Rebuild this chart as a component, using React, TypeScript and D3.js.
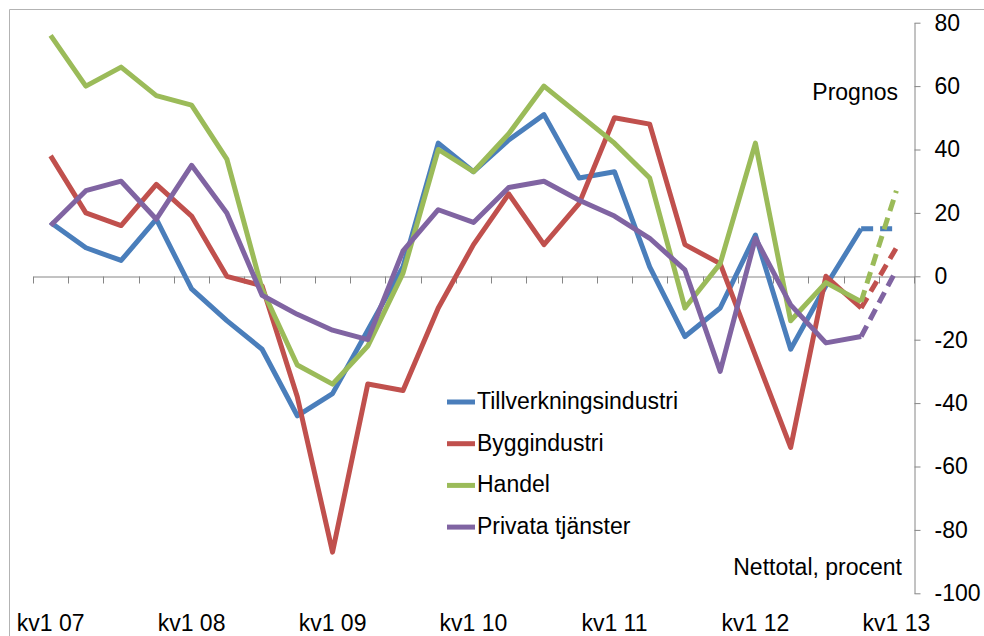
import * as d3 from 'd3';
import { useRef, useEffect } from 'react';

const quarters = [
  'kv1 07', 'kv2 07', 'kv3 07', 'kv4 07',
  'kv1 08', 'kv2 08', 'kv3 08', 'kv4 08',
  'kv1 09', 'kv2 09', 'kv3 09', 'kv4 09',
  'kv1 10', 'kv2 10', 'kv3 10', 'kv4 10',
  'kv1 11', 'kv2 11', 'kv3 11', 'kv4 11',
  'kv1 12', 'kv2 12', 'kv3 12', 'kv4 12',
  'kv1 13',
];

const tillverkning = [17, 9, 5, 18, -4, -14, -23, -44, -37, -17, 3, 42, 33, 43, 51, 31, 33, 3, -19, -10, 13, -23, -3, 15, 15];
const bygg = [38, 20, 16, 29, 19, 0, -3, -38, -87, -34, -36, -10, 10, 26, 10, 23, 50, 48, 10, 4, -25, -54, 0, -10, 9];
const handel = [76, 60, 66, 57, 54, 37, -4, -28, -34, -22, 1, 40, 33, 45, 60, 51, 42, 31, -10, 4, 42, -14, -2, -8, 27];
const privata = [16, 27, 30, 18, 35, 20, -6, -12, -17, -20, 8, 21, 17, 28, 30, 24, 19, 12, 2, -30, 12, -9, -21, -19, 2];

const seriesNames = ['Tillverkningsindustri', 'Byggindustri', 'Handel', 'Privata tjänster'];
const seriesColors = ['#4a7ebb', '#c0504d', '#9bbb59', '#8064a2'];
const yTicks = [80, 60, 40, 20, 0, -20, -40, -60, -80, -100];
const forecastFrom = 23; // index of kv4 12, dashed after this

const LineChart = () => {
  const svgRef = useRef<SVGSVGElement>(null);

  useEffect(() => {
    const svg = d3.select(svgRef.current);
    const width = 984;
    const height = 636;
    const plot = { left: 33, right: 914, top: 22.7, bottom: 593.3 };
    const font = '"Liberation Sans", Arial, sans-serif';
    const fs = '23px';

    svg.attr('width', width).attr('height', height);
    svg.selectAll('*').remove();

    // outer frame
    svg.append('path')
      .attr('d', `M9.5,${height}V9.5H${width}`)
      .attr('fill', 'none')
      .attr('stroke', '#b3b3b3')
      .attr('stroke-width', 1);

    const x = d3.scaleBand()
      .domain(quarters)
      .range([plot.left, plot.right]);

    const y = d3.scaleLinear()
      .domain([-100, 80])
      .range([plot.bottom, plot.top]);

    const cx = (i: number) => x(quarters[i])! + x.bandwidth() / 2;

    // x axis (zero line with boundary ticks)
    const xAxisG = svg.append('g')
      .attr('transform', `translate(0,${Math.round(y(0)) + 0.5})`)
      .call(d3.axisBottom(x).tickSize(0).tickFormat(() => ''));
    xAxisG.select('.domain').attr('stroke', '#868686');
    xAxisG.selectAll('.tick').remove();
    xAxisG.selectAll('line.bnd')
      .data(d3.range(quarters.length + 1))
      .enter().append('line')
      .attr('x1', i => Math.round(plot.left + i * x.step()) + 0.5)
      .attr('x2', i => Math.round(plot.left + i * x.step()) + 0.5)
      .attr('y1', 0)
      .attr('y2', 7)
      .attr('stroke', '#868686');

    // x labels every fourth quarter
    svg.append('g')
      .selectAll('text')
      .data(quarters.map((q, i) => ({ q, i })).filter(d => d.i % 4 === 0))
      .enter().append('text')
      .attr('x', d => cx(d.i))
      .attr('y', 631)
      .attr('text-anchor', 'middle')
      .style('font-family', font)
      .style('font-size', fs)
      .attr('fill', '#000')
      .text(d => d.q);

    // right y axis
    const yAxisG = svg.append('g')
      .attr('transform', `translate(${plot.right + 0.5},0)`)
      .call(d3.axisRight(y).tickValues(yTicks).tickSize(6).tickSizeOuter(0).tickPadding(14)
        .tickFormat(d => String(d)));
    yAxisG.select('.domain').attr('stroke', '#868686');
    yAxisG.selectAll('.tick line').attr('stroke', '#868686');
    yAxisG.selectAll('.tick text')
      .style('font-family', font)
      .style('font-size', fs)
      .attr('fill', '#000');

    // lines
    const allSeries = [tillverkning, bygg, handel, privata];
    const line = d3.line<number>()
      .x((d, i) => cx(i))
      .y(d => y(d));

    allSeries.forEach((vals, s) => {
      const solid = vals.slice(0, forecastFrom + 1);
      svg.append('path')
        .datum(solid)
        .attr('d', line)
        .attr('fill', 'none')
        .attr('stroke', seriesColors[s])
        .attr('stroke-width', 5)
        .attr('stroke-linejoin', 'round');

      const dashLine = d3.line<number>()
        .x((d, i) => cx(i + forecastFrom))
        .y(d => y(d));
      svg.append('path')
        .datum(vals.slice(forecastFrom))
        .attr('d', dashLine)
        .attr('fill', 'none')
        .attr('stroke', seriesColors[s])
        .attr('stroke-width', 5)
        .attr('stroke-dasharray', '12,7');
    });

    // annotations
    svg.append('text')
      .attr('x', 898)
      .attr('y', 100)
      .attr('text-anchor', 'end')
      .style('font-family', font)
      .style('font-size', fs)
      .text('Prognos');

    svg.append('text')
      .attr('x', 902)
      .attr('y', 575)
      .attr('text-anchor', 'end')
      .style('font-family', font)
      .style('font-size', fs)
      .text('Nettotal, procent');

    // legend
    const legend = svg.append('g').attr('transform', 'translate(447,402)');
    const rows = legend.selectAll('g')
      .data(seriesNames)
      .enter().append('g')
      .attr('transform', (d, i) => `translate(0,${i * 41.7})`);
    rows.append('line')
      .attr('x1', 0)
      .attr('x2', 28)
      .attr('stroke', (d, i) => seriesColors[i])
      .attr('stroke-width', 5);
    rows.append('text')
      .attr('x', 30)
      .attr('y', 7)
      .style('font-family', font)
      .style('font-size', fs)
      .text(d => d);
  }, []);

  return (
    <svg ref={svgRef} style={{ position: 'absolute', left: 0, top: 0, background: '#fff' }}></svg>
  );
};

export default function App() {
  return <LineChart />;
}
